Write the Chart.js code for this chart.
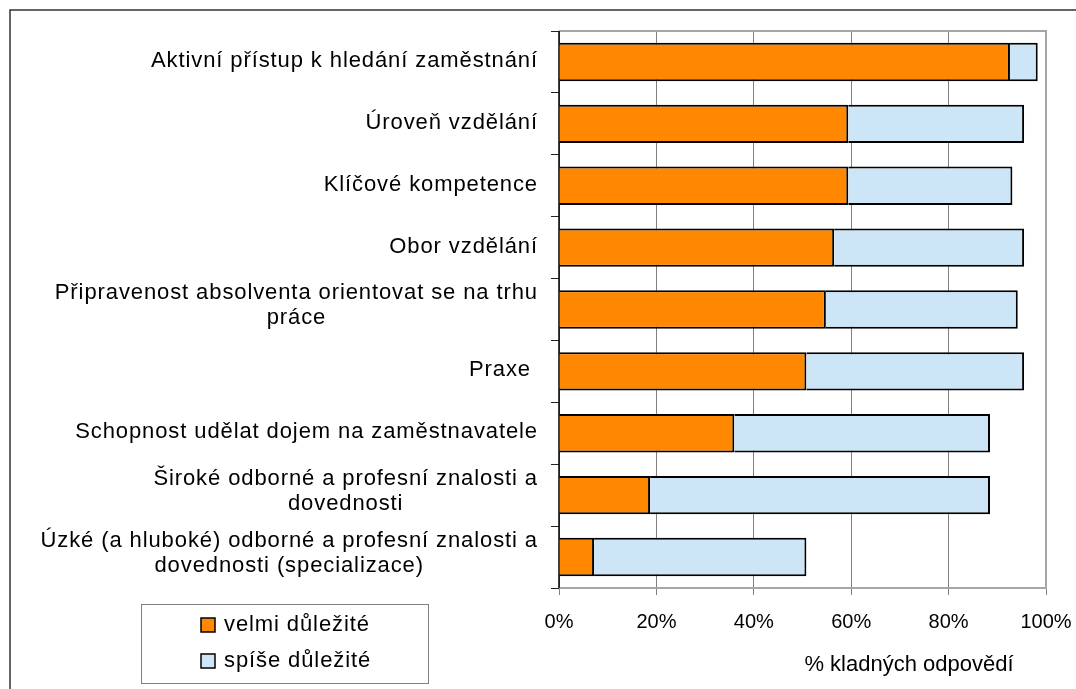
<!DOCTYPE html>
<html>
<head>
<meta charset="utf-8">
<script src="https://cdn.jsdelivr.net/npm/chart.js@4.4.1/dist/chart.umd.min.js"></script>
<style>
  html, body { margin: 0; padding: 0; background: #fff; }
  #wrap { width: 1076px; height: 689px; }
</style>
</head>
<body>
<div id="wrap"><canvas id="chart" width="1076" height="689"></canvas></div>
<script>
/* ── Data ── */
var categories = [
  ['Aktivní přístup k hledání zaměstnání'],
  ['Úroveň vzdělání'],
  ['Klíčové kompetence'],
  ['Obor vzdělání'],
  ['Připravenost absolventa orientovat se na trhu', 'práce'],
  ['Praxe '],
  ['Schopnost udělat dojem na zaměstnavatele'],
  ['Široké odborné a profesní znalosti a', 'dovednosti'],
  ['Úzké (a hluboké) odborné a profesní znalosti a', 'dovednosti (specializace)']
];
var seriesNames = ['velmi důležité', 'spíše důležité'];
var velmi = [92.6, 59.4, 59.4, 56.5, 54.8, 50.8, 36.0, 18.7, 7.2];
var spise = [5.7, 36.1, 33.7, 39.0, 39.4, 44.7, 52.5, 69.8, 43.6];
var xTicks = [0, 20, 40, 60, 80, 100];
var axisTitle = '% kladných odpovědí';

var FAMILY = '"Liberation Sans", Arial, sans-serif';
var FONT = '22px ' + FAMILY;

/* ── Labels, legend, frames drawn on the canvas ── */
var decor = {
  id: 'decor',
  beforeDraw: function(chart) {
    var ctx = chart.ctx;
    ctx.save();
    ctx.fillStyle = '#fff';
    ctx.fillRect(0, 0, chart.width, chart.height);
    ctx.restore();
    ctx.letterSpacing = '0px';
  },
  beforeDatasetsDraw: function(chart) {
    var a = chart.chartArea, ctx = chart.ctx;
    ctx.save();
    ctx.strokeStyle = '#a6a6a6';
    ctx.lineWidth = 2;
    ctx.beginPath();
    ctx.moveTo(a.left, a.top);
    ctx.lineTo(a.right, a.top);
    ctx.lineTo(a.right, a.bottom);
    ctx.lineTo(a.left, a.bottom);
    ctx.stroke();
    // y axis line on top
    ctx.strokeStyle = '#000';
    ctx.lineWidth = 1.5;
    ctx.beginPath();
    ctx.moveTo(a.left, a.top);
    ctx.lineTo(a.left, a.bottom);
    ctx.stroke();
    ctx.restore();
  },
  afterDraw: function(chart) {
    var ctx = chart.ctx, ys = chart.scales.y;
    ctx.save();
    ctx.font = FONT;
    ctx.fillStyle = '#000';
    ctx.letterSpacing = '0.9px';
    ctx.textAlign = 'center';
    ctx.textBaseline = 'middle';

    // category labels: block right-aligned, lines centred inside block
    var labelRight = 538, lineH = 25;
    categories.forEach(function(lines, i) {
      var cy = ys.getPixelForValue(i);
      var w = Math.max.apply(null, lines.map(function(s) { return ctx.measureText(s).width; }));
      var cx = labelRight - w / 2;
      var top = cy - (lines.length - 1) * lineH / 2 - (lines.length > 1 ? 4 : 1);
      lines.forEach(function(s, k) { ctx.fillText(s, cx, top + k * lineH); });
    });

    // axis title
    ctx.letterSpacing = '0px';
    ctx.fillText(axisTitle, 909, 665);

    // legend box
    ctx.strokeStyle = '#808080';
    ctx.lineWidth = 1;
    ctx.strokeRect(141.5, 604.5, 287, 79);
    ctx.textAlign = 'left';
    ctx.letterSpacing = '0.9px';
    chart.data.datasets.forEach(function(ds, k) {
      var y = 625 + k * 36;
      ctx.fillStyle = ds.backgroundColor;
      ctx.fillRect(201, y - 7, 14, 14);
      ctx.strokeStyle = '#000';
      ctx.lineWidth = 1.5;
      ctx.strokeRect(201, y - 7, 14, 14);
      ctx.fillStyle = '#000';
      ctx.fillText(ds.label, 224, y);
    });

    // outer frame (left + top edges visible)
    ctx.strokeStyle = '#333';
    ctx.lineWidth = 1.5;
    ctx.beginPath();
    ctx.moveTo(10, chart.height);
    ctx.lineTo(10, 10);
    ctx.lineTo(chart.width, 10);
    ctx.stroke();
    ctx.restore();
  }
};

new Chart(document.getElementById('chart'), {
  type: 'bar',
  data: {
    labels: categories.map(function(l) { return l.join(' '); }),
    datasets: [
      {
        label: seriesNames[0],
        data: velmi,
        backgroundColor: '#ff8800',
        borderColor: '#000',
        borderWidth: 2,
        barPercentage: 0.62,
        categoryPercentage: 1
      },
      {
        label: seriesNames[1],
        data: spise,
        backgroundColor: '#cce6f7',
        borderColor: '#000',
        borderWidth: 2,
        barPercentage: 0.62,
        categoryPercentage: 1
      }
    ]
  },
  options: {
    indexAxis: 'y',
    responsive: false,
    animation: false,
    layout: { padding: { top: 31, right: 30, left: 0, bottom: 0 } },
    plugins: {
      legend: { display: false },
      tooltip: { enabled: false }
    },
    scales: {
      x: {
        stacked: true,
        min: 0,
        max: 100,
        afterBuildTicks: function(scale) {
          scale.ticks = xTicks.map(function(v) { return { value: v }; });
        },
        afterFit: function(scale) {
          scale.height = 101;
          scale.paddingLeft = 0;
          scale.paddingRight = 0;
        },
        grid: { color: '#808080', tickColor: '#808080', tickLength: 7, lineWidth: 1 },
        border: { display: false },
        ticks: {
          padding: 15,
          color: '#000',
          font: { family: FAMILY, size: 20 },
          callback: function(v) { return v + '%'; }
        }
      },
      y: {
        stacked: true,
        afterFit: function(scale) { scale.width = 559; },
        grid: { drawOnChartArea: false, tickLength: 8, tickColor: '#222', offset: true },
        border: { display: false },
        ticks: { display: false }
      }
    }
  },
  plugins: [decor]
});
</script>
</body>
</html>
